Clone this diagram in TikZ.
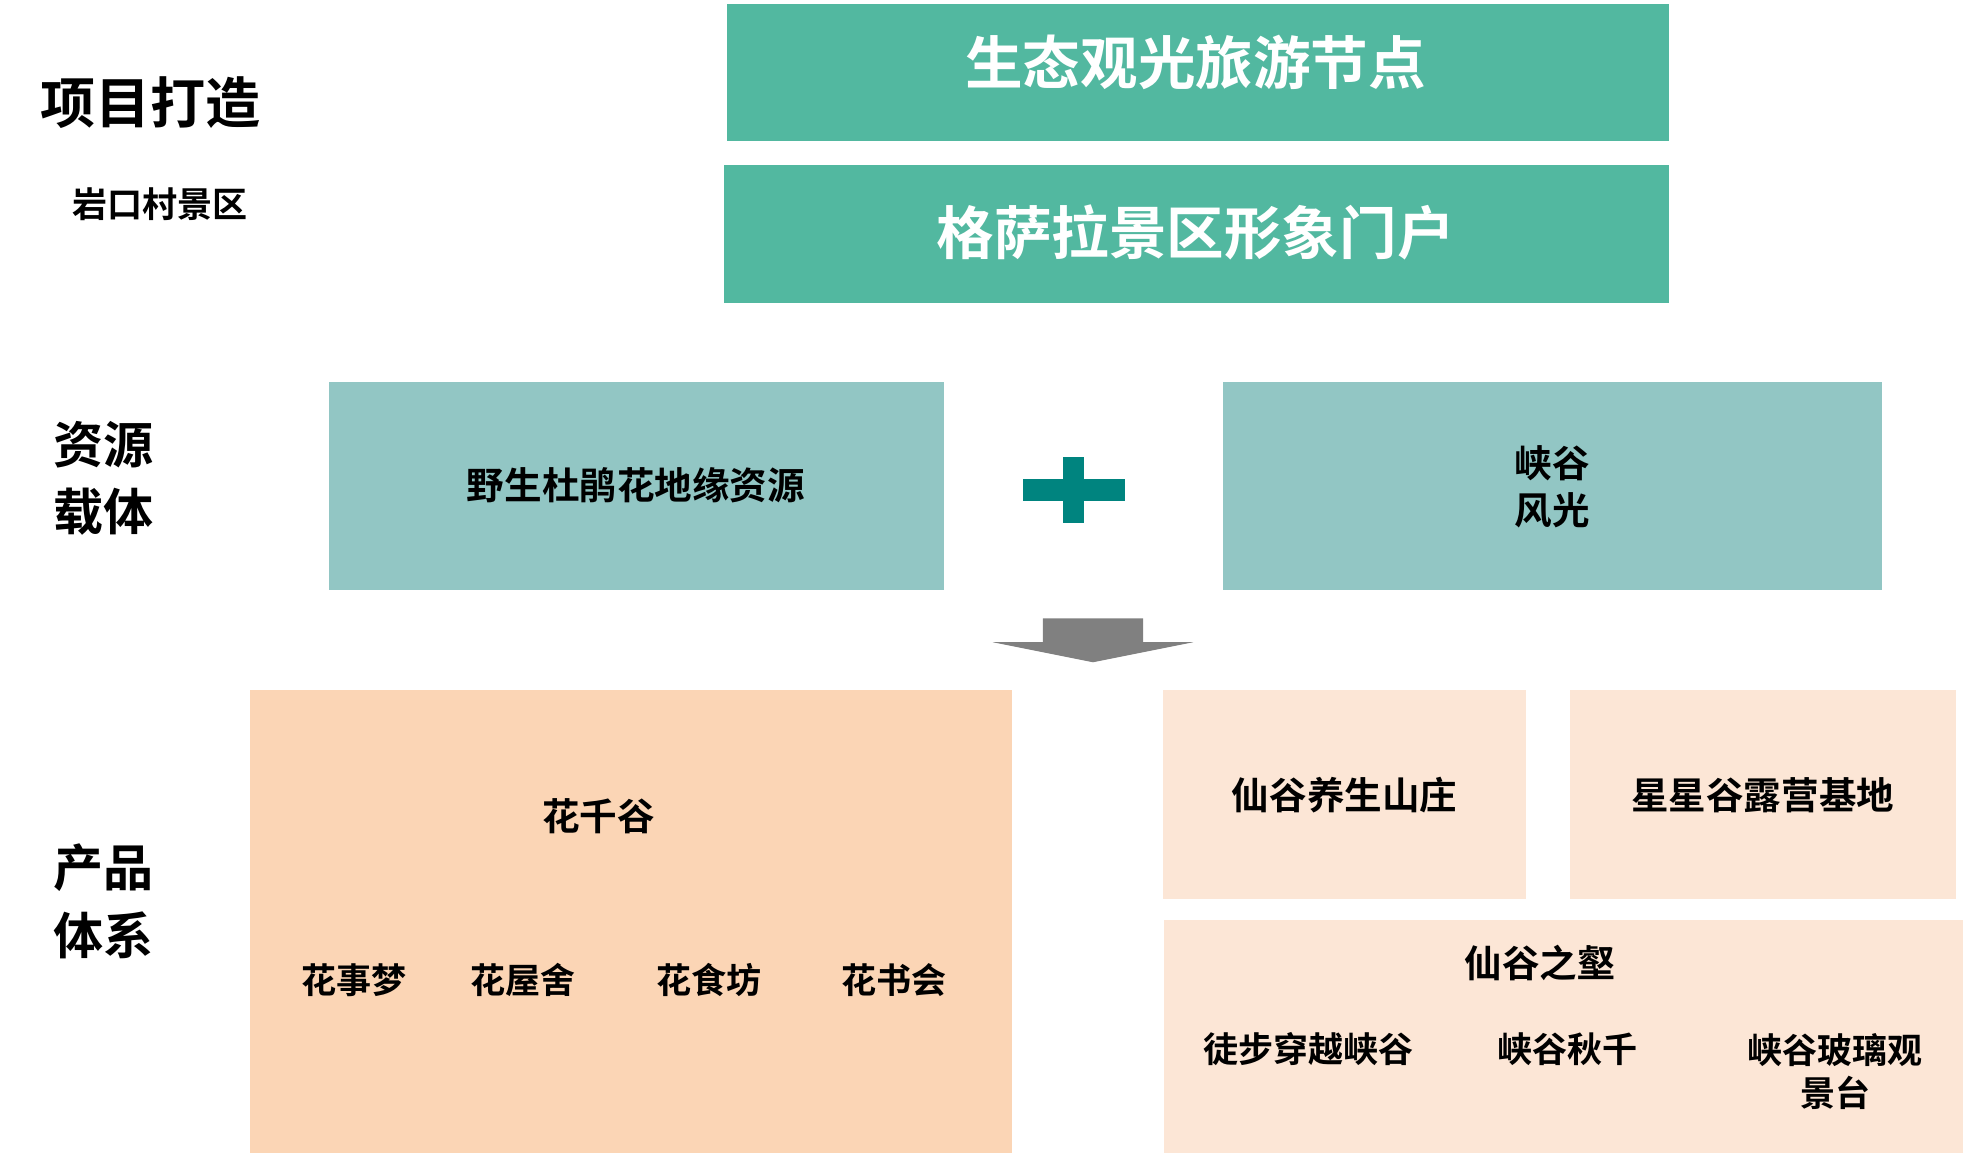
\documentclass[tikz,border=0pt]{standalone}
\usepackage{fontspec}
\setmainfont{Noto Sans CJK SC}[BoldFont={Noto Sans CJK SC Bold}]
\begin{document}
\begin{tikzpicture}[x=1pt,y=-1pt,
  lbl/.style={font=\bfseries\fontsize{40}{48}\selectfont,align=center,text=black},
  big/.style={font=\bfseries\fontsize{46}{54}\selectfont,text=white},
  mid/.style={font=\bfseries\fontsize{30}{38}\selectfont,align=center,text=black},
  sm/.style={font=\bfseries\fontsize{28}{34}\selectfont,align=center,text=black}]
\definecolor{gA}{HTML}{52B8A0}
\definecolor{tB}{HTML}{92C6C4}
\definecolor{tP}{HTML}{00847F}
\definecolor{pA}{HTML}{FBD5B5}
\definecolor{pB}{HTML}{FCE6D6}
\useasboundingbox (0,0) rectangle (1568,921);
\fill[gA] (581,3) rectangle (1333,113);
\fill[gA] (578,132) rectangle (1333,242);
\node[big] (t1) at (955,50) {生态观光旅游节点};
\node[big] (t2) at (955,186) {格萨拉景区形象门户};
\node[font=\bfseries\fontsize{44}{50}\selectfont] (l1) at (120,82) {项目打造};
\node[font=\bfseries\fontsize{28}{34}\selectfont] (l2) at (128,163) {岩口村景区};
\node[lbl] (l3) at (83,382) {资源\\[6pt]载体};
\node[lbl] (l4) at (83,720) {产品\\[6pt]体系};
\fill[tB] (263,305) rectangle (754,471);
\fill[tB] (977,305) rectangle (1503,471);
\node[mid] (r1) at (508,388) {野生杜鹃花地缘资源};
\node[mid] (r2) at (1240,389) {峡谷\\风光};
\fill[tP] (817,383) rectangle (899,400);
\fill[tP] (849,365) rectangle (866,418);
\fill[gray!100!black,fill=black!50] (833,494) -- (913,494) -- (913,513) -- (953,513) -- (873,529) -- (793,513) -- (833,513) -- cycle;
\fill[pA] (200,551) rectangle (808,921);
\fill[pB] (929,551) rectangle (1219,718);
\fill[pB] (1254,551) rectangle (1562,718);
\fill[pB] (930,735) rectangle (1568,921);
\node[mid] (p0) at (478,652) {花千谷};
\node[sm] (p1) at (283,783) {花事梦};
\node[sm] (p2) at (418,783) {花屋舍};
\node[sm] (p3) at (566,783) {花食坊};
\node[sm] (p4) at (714,783) {花书会};
\node[mid] (q1) at (1074,635) {仙谷养生山庄};
\node[mid] (q2) at (1408,635) {星星谷露营基地};
\node[mid] (q3) at (1230,769) {仙谷之壑};
\node[sm] (q4) at (1045,838) {徒步穿越峡谷};
\node[sm] (q5) at (1252,838) {峡谷秋千};
\node[sm] (q6) at (1466,856) {峡谷玻璃观\\景台};
\end{tikzpicture}
\end{document}
